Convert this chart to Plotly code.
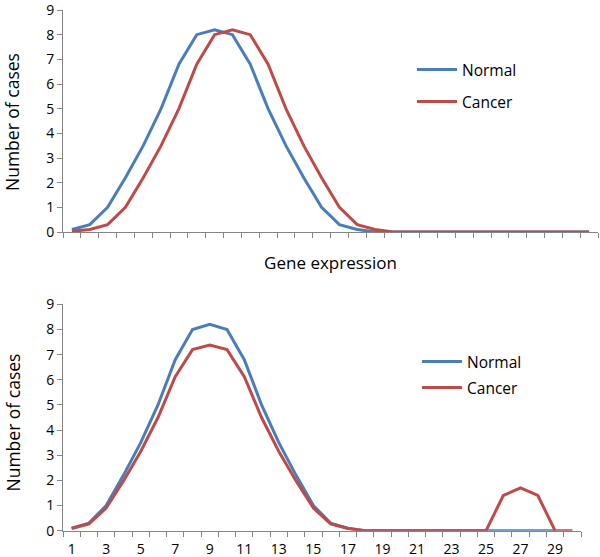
import plotly.graph_objects as go

categories = list(range(1, 31))

top_normal = [0.1, 0.3, 1.0, 2.2, 3.5, 5.0, 6.8, 8.0, 8.2, 8.0, 6.8, 5.0, 3.5, 2.2, 1.0,
              0.3, 0.1, 0, 0, 0, 0, 0, 0, 0, 0, 0, 0, 0, 0, 0]
top_cancer = [0.03, 0.1, 0.3, 1.0, 2.2, 3.5, 5.0, 6.8, 8.0, 8.2, 8.0, 6.8, 5.0, 3.5, 2.2,
              1.0, 0.3, 0.1, 0, 0, 0, 0, 0, 0, 0, 0, 0, 0, 0, 0]

bottom_normal = [0.1, 0.3, 1.0, 2.2, 3.5, 5.0, 6.8, 8.0, 8.2, 8.0, 6.8, 5.0, 3.5, 2.2, 1.0,
                 0.3, 0.1, 0, 0, 0, 0, 0, 0, 0, 0, 0, 0, 0, 0]
bottom_cancer = [0.09, 0.27, 0.9, 1.98, 3.15, 4.5, 6.12, 7.2, 7.38, 7.2, 6.12, 4.5, 3.15, 1.98, 0.9,
                 0.27, 0.09, 0, 0, 0, 0, 0, 0, 0, 0, 1.4, 1.7, 1.4, 0, 0]

y_ticks = list(range(0, 10))
x_tick_labels = list(range(1, 30, 2))
y_title = "Number of cases"
x_title = "Gene expression"

BLUE = "#4A7EBB"
RED = "#BE4B48"
AXIS = "#868686"
FONT = "Open Sans"

W, H = 600, 557

def px_x(p):
    return p / W

def px_y(p):
    return 1 - p / H

fig = go.Figure()

fig.add_trace(go.Scatter(x=categories[:len(top_normal)], y=top_normal, mode="lines", name="Normal",
                         line=dict(color=BLUE, width=3), xaxis="x", yaxis="y", legend="legend"))
fig.add_trace(go.Scatter(x=categories[:len(top_cancer)], y=top_cancer, mode="lines", name="Cancer",
                         line=dict(color=RED, width=3), xaxis="x", yaxis="y", legend="legend2"))
fig.add_trace(go.Scatter(x=categories[:len(bottom_normal)], y=bottom_normal, mode="lines", name="Normal",
                         line=dict(color=BLUE, width=3), xaxis="x2", yaxis="y2", legend="legend3"))
fig.add_trace(go.Scatter(x=categories[:len(bottom_cancer)], y=bottom_cancer, mode="lines", name="Cancer",
                         line=dict(color=RED, width=3), xaxis="x2", yaxis="y2", legend="legend4"))

yaxis_common = dict(range=[0, 9], tickmode="array", tickvals=y_ticks, showline=True, linecolor=AXIS,
                    linewidth=1, ticks="outside", ticklen=5, tickcolor=AXIS, showgrid=False,
                    zeroline=False, automargin=False, ticklabelstandoff=0,
                    ticklabeloverflow="allow",
                    tickfont=dict(family=FONT, size=14, color="black"))

fig.update_layout(
    template="none",
    width=W, height=H,
    margin=dict(l=0, r=0, t=0, b=0, autoexpand=False),
    paper_bgcolor="white", plot_bgcolor="white",
    font=dict(family=FONT, color="black"),
    showlegend=True,
    xaxis=dict(domain=[px_x(63), px_x(598)], anchor="y", range=[0.5, 30.5], automargin=False,
               showline=True, linecolor=AXIS, linewidth=1, showgrid=False, zeroline=False,
               tickmode="linear", tick0=0.5, dtick=1, ticks="outside", ticklen=5, tickcolor=AXIS,
               showticklabels=False,
               title=dict(text=x_title, font=dict(family=FONT, size=17, color="black"),
                          standoff=20)),
    yaxis=dict(domain=[px_y(232), px_y(10)], anchor="x", **yaxis_common),
    xaxis2=dict(domain=[px_x(63), px_x(581)], anchor="y2", range=[0.5, 30.5], automargin=False,
                showline=True, linecolor=AXIS, linewidth=1, showgrid=False, zeroline=False,
                tickmode="array", tickvals=x_tick_labels, ticks="", ticklabelstandoff=5,
                ticklabeloverflow="allow",
                tickfont=dict(family=FONT, size=14, color="black"),
                minor=dict(tick0=0.5, dtick=1, ticks="outside", ticklen=5, tickcolor=AXIS, showgrid=False)),
    yaxis2=dict(domain=[px_y(530.7), px_y(304.3)], anchor="x2", **yaxis_common),
)

for yc in (122.5, 423):
    fig.add_annotation(text=y_title, textangle=-90, xref="paper", yref="paper",
                       x=px_x(12.5), y=px_y(yc), xanchor="center", yanchor="middle",
                       showarrow=False, font=dict(family=FONT, size=17.5, color="black"))

legend_common = dict(xanchor="left", yanchor="middle", bgcolor="rgba(0,0,0,0)", borderwidth=0,
                     font=dict(family=FONT, size=15.5, color="black"), itemwidth=40)
fig.update_layout(
    legend=dict(x=px_x(412), y=px_y(70), **legend_common),
    legend2=dict(x=px_x(412), y=px_y(102), **legend_common),
    legend3=dict(x=px_x(417), y=px_y(362), **legend_common),
    legend4=dict(x=px_x(417), y=px_y(388), **legend_common),
)

fig.write_html("out.html", config={"displayModeBar": False},
               post_script="document.body.style.margin='0';")
